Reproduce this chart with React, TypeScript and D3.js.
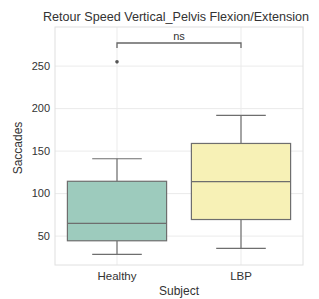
import React, { useEffect, useRef } from 'react';
import * as d3 from 'd3';

const categories = ['Healthy', 'LBP'];
// [lower whisker, q1, median, q3, upper whisker]
const boxStats = [
  [28.5, 44.5, 65, 114.5, 141],
  [35.5, 69.5, 114, 159, 192],
];
const outliers = [[255], []];
const boxColors = ['#9dcbbd', '#f7f1b6'];
const yTicks = [50, 100, 150, 200, 250];

const W = 319;
const H = 299;

const App: React.FC = () => {
  const svgRef = useRef<SVGSVGElement | null>(null);

  useEffect(() => {
    if (!svgRef.current) return;
    const svg = d3.select(svgRef.current);
    svg.selectAll('*').remove();

    const margin = { top: 27, right: 16, bottom: 34, left: 55 };
    const x0 = margin.left, x1 = W - margin.right;
    const y0 = margin.top, y1 = H - margin.bottom;
    const font = 'Liberation Sans, Arial, sans-serif';

    const x = d3.scaleBand().domain(categories).range([x0, x1]).padding(0);
    const y = d3.scaleLinear().domain([16, 296]).range([y1, y0]);

    // grid
    svg.append('g').selectAll('line.h')
      .data(yTicks)
      .enter().append('line')
      .attr('x1', x0).attr('x2', x1)
      .attr('y1', d => y(d)).attr('y2', d => y(d))
      .attr('stroke', '#ebebeb').attr('stroke-width', 1);
    svg.append('g').selectAll('line.v')
      .data(categories)
      .enter().append('line')
      .attr('x1', d => x(d)! + x.bandwidth() / 2).attr('x2', d => x(d)! + x.bandwidth() / 2)
      .attr('y1', y0).attr('y2', y1)
      .attr('stroke', '#ebebeb').attr('stroke-width', 1);

    // frame
    svg.append('rect')
      .attr('x', x0).attr('y', y0)
      .attr('width', x1 - x0).attr('height', y1 - y0)
      .attr('fill', 'none').attr('stroke', '#e0e0e0').attr('stroke-width', 1);

    const boxW = x.bandwidth() * 0.8;
    const edge = '#6e6e6e';

    categories.forEach((c, i) => {
      const [lo, q1, med, q3, hi] = boxStats[i];
      const cx = x(c)! + x.bandwidth() / 2;
      const g = svg.append('g');
      g.append('line').attr('x1', cx).attr('x2', cx).attr('y1', y(q3)).attr('y2', y(hi))
        .attr('stroke', edge).attr('stroke-width', 1.2);
      g.append('line').attr('x1', cx).attr('x2', cx).attr('y1', y(q1)).attr('y2', y(lo))
        .attr('stroke', edge).attr('stroke-width', 1.2);
      [lo, hi].forEach(v => {
        g.append('line').attr('x1', cx - boxW / 4).attr('x2', cx + boxW / 4)
          .attr('y1', y(v)).attr('y2', y(v))
          .attr('stroke', edge).attr('stroke-width', 1.2);
      });
      g.append('rect')
        .attr('x', cx - boxW / 2).attr('y', y(q3))
        .attr('width', boxW).attr('height', y(q1) - y(q3))
        .attr('fill', boxColors[i]).attr('stroke', edge).attr('stroke-width', 1.2);
      g.append('line').attr('x1', cx - boxW / 2).attr('x2', cx + boxW / 2)
        .attr('y1', y(med)).attr('y2', y(med))
        .attr('stroke', edge).attr('stroke-width', 1.2);
      outliers[i].forEach(v => {
        g.append('circle').attr('cx', cx).attr('cy', y(v)).attr('r', 1.8)
          .attr('fill', '#555');
      });
    });

    // y tick labels
    svg.append('g').selectAll('text')
      .data(yTicks)
      .enter().append('text')
      .attr('x', x0 - 5).attr('y', d => y(d)).attr('dy', '0.35em')
      .attr('text-anchor', 'end')
      .style('font-family', font).style('font-size', '11px').attr('fill', '#333')
      .text(d => d);

    // x tick labels
    svg.append('g').selectAll('text')
      .data(categories)
      .enter().append('text')
      .attr('x', d => x(d)! + x.bandwidth() / 2).attr('y', y1 + 15)
      .attr('text-anchor', 'middle')
      .style('font-family', font).style('font-size', '11.5px').attr('fill', '#333')
      .text(d => d);

    // axis labels
    svg.append('text')
      .attr('x', (x0 + x1) / 2).attr('y', y1 + 30)
      .attr('text-anchor', 'middle')
      .style('font-family', font).style('font-size', '12px').attr('fill', '#333')
      .text('Subject');
    svg.append('text')
      .attr('transform', `translate(22,${(y0 + y1) / 2 + 2}) rotate(-90)`)
      .attr('text-anchor', 'middle')
      .style('font-family', font).style('font-size', '12px').attr('fill', '#333')
      .text('Saccades');

    // title
    svg.append('text')
      .attr('x', 176).attr('y', 21)
      .attr('text-anchor', 'middle')
      .style('font-family', font).style('font-size', '12.6px').attr('fill', '#333')
      .text('Retour Speed Vertical_Pelvis Flexion/Extension');

    // significance bracket
    const bx0 = x(categories[0])! + x.bandwidth() / 2;
    const bx1 = x(categories[1])! + x.bandwidth() / 2;
    const by = 43;
    svg.append('path')
      .attr('d', `M${bx0},${by + 5}V${by}H${bx1}V${by + 5}`)
      .attr('fill', 'none').attr('stroke', '#666').attr('stroke-width', 1.3);
    svg.append('text')
      .attr('x', (bx0 + bx1) / 2).attr('y', by - 3)
      .attr('text-anchor', 'middle')
      .style('font-family', font).style('font-size', '11px').attr('fill', '#333')
      .text('ns');
  }, []);

  return (
    <svg ref={svgRef} width={W} height={H}
      style={{ position: 'absolute', left: 0, top: 0, background: '#fff' }} />
  );
};

export default App;
